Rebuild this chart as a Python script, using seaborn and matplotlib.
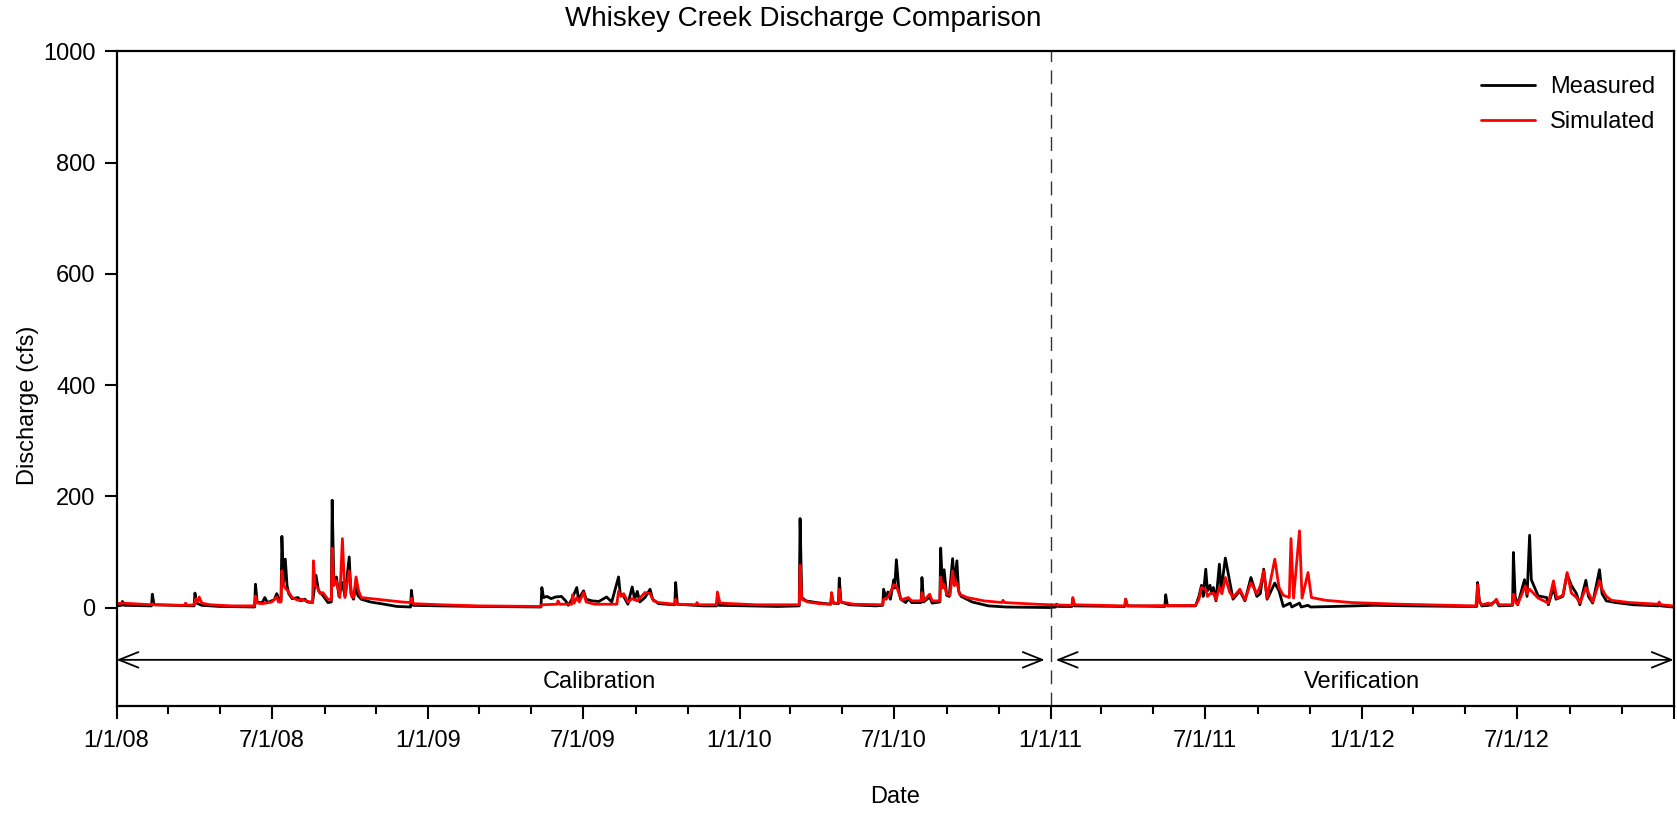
import pandas as pd
import seaborn as sns
import matplotlib
matplotlib.use("Agg")
import matplotlib.pyplot as plt
import matplotlib.dates as mdates
from matplotlib.ticker import FuncFormatter

# daily discharge (cfs), key points only
measured = [
    ("2008-01-01", 3), ("2008-01-07", 4), ("2008-01-08", 11), ("2008-01-10", 4),
    ("2008-02-11", 3), ("2008-02-12", 24), ("2008-02-14", 5),
    ("2008-04-01", 3), ("2008-04-02", 26), ("2008-04-04", 8), ("2008-04-10", 4),
    ("2008-05-01", 2), ("2008-06-11", 1), ("2008-06-12", 42), ("2008-06-14", 9),
    ("2008-06-20", 9), ("2008-06-23", 18), ("2008-06-26", 9), ("2008-07-04", 14),
    ("2008-07-07", 25), ("2008-07-10", 12), ("2008-07-12", 14), ("2008-07-13", 128),
    ("2008-07-15", 45), ("2008-07-17", 87), ("2008-07-19", 40), ("2008-07-21", 25),
    ("2008-07-25", 16), ("2008-08-01", 18), ("2008-08-04", 12), ("2008-08-09", 15),
    ("2008-08-12", 10), ("2008-08-18", 9), ("2008-08-22", 58), ("2008-08-25", 30),
    ("2008-08-30", 22), ("2008-09-05", 9), ("2008-09-09", 10), ("2008-09-10", 193),
    ("2008-09-12", 40), ("2008-09-15", 55), ("2008-09-18", 20), ("2008-09-22", 45),
    ("2008-09-25", 20), ("2008-09-30", 91), ("2008-10-02", 25), ("2008-10-05", 15),
    ("2008-10-08", 42), ("2008-10-10", 22), ("2008-10-14", 15), ("2008-10-25", 10),
    ("2008-11-10", 6), ("2008-11-25", 2), ("2008-12-11", 1), ("2008-12-12", 31),
    ("2008-12-14", 4), ("2009-01-15", 3), ("2009-03-01", 2), ("2009-05-13", 1),
    ("2009-05-14", 36), ("2009-05-16", 18), ("2009-05-20", 20), ("2009-05-25", 16),
    ("2009-05-30", 19), ("2009-06-06", 20), ("2009-06-11", 12), ("2009-06-14", 4),
    ("2009-06-18", 14), ("2009-06-24", 36), ("2009-06-26", 15), ("2009-07-02", 30),
    ("2009-07-05", 15), ("2009-07-12", 12), ("2009-07-20", 11), ("2009-07-29", 19),
    ("2009-08-04", 10), ("2009-08-12", 55), ("2009-08-14", 25), ("2009-08-18", 20),
    ("2009-08-23", 6), ("2009-08-28", 37), ("2009-08-31", 15), ("2009-09-03", 29),
    ("2009-09-06", 10), ("2009-09-12", 18), ("2009-09-18", 33), ("2009-09-21", 15),
    ("2009-09-28", 7), ("2009-10-17", 5), ("2009-10-18", 45), ("2009-10-20", 6),
    ("2009-11-20", 3), ("2009-12-05", 3), ("2009-12-06", 19), ("2009-12-08", 4),
    ("2010-01-15", 3), ("2010-02-15", 2), ("2010-03-12", 3), ("2010-03-13", 160),
    ("2010-03-15", 18), ("2010-03-20", 12), ("2010-04-01", 9), ("2010-04-18", 6),
    ("2010-04-19", 22), ("2010-04-21", 8), ("2010-04-27", 7), ("2010-04-28", 53),
    ("2010-04-30", 10), ("2010-05-10", 5), ("2010-06-10", 3), ("2010-06-18", 4),
    ("2010-06-19", 33), ("2010-06-22", 15), ("2010-06-24", 28), ("2010-06-27", 15),
    ("2010-07-01", 50), ("2010-07-02", 35), ("2010-07-04", 86), ("2010-07-07", 30),
    ("2010-07-09", 15), ("2010-07-15", 9), ("2010-07-18", 16), ("2010-07-22", 9),
    ("2010-08-02", 9), ("2010-08-03", 54), ("2010-08-05", 10), ("2010-08-12", 19),
    ("2010-08-15", 8), ("2010-08-24", 10), ("2010-08-25", 107), ("2010-08-27", 40),
    ("2010-08-29", 68), ("2010-09-01", 22), ("2010-09-04", 20), ("2010-09-08", 88),
    ("2010-09-10", 40), ("2010-09-13", 84), ("2010-09-15", 30), ("2010-09-18", 20),
    ("2010-10-01", 10), ("2010-10-20", 3), ("2010-11-10", 1), ("2010-12-31", 0),
    ("2011-01-07", 1), ("2011-01-08", 6), ("2011-01-10", 2), ("2011-01-26", 2),
    ("2011-01-27", 15), ("2011-01-29", 3), ("2011-03-29", 2), ("2011-03-30", 15),
    ("2011-04-01", 3), ("2011-05-15", 2), ("2011-05-16", 23), ("2011-05-18", 3),
    ("2011-06-20", 3), ("2011-06-24", 20), ("2011-06-27", 40), ("2011-06-29", 20),
    ("2011-07-02", 69), ("2011-07-04", 30), ("2011-07-07", 40), ("2011-07-09", 25),
    ("2011-07-11", 36), ("2011-07-14", 12), ("2011-07-18", 78), ("2011-07-20", 30),
    ("2011-07-25", 89), ("2011-07-30", 48), ("2011-08-03", 15), ("2011-08-11", 30),
    ("2011-08-17", 12), ("2011-08-24", 54), ("2011-08-31", 20), ("2011-09-04", 25),
    ("2011-09-08", 69), ("2011-09-12", 15), ("2011-09-21", 44), ("2011-09-26", 30),
    ("2011-10-01", 2), ("2011-10-09", 8), ("2011-10-11", 1), ("2011-10-20", 8),
    ("2011-10-22", 1), ("2011-10-30", 4), ("2011-11-02", 1), ("2011-12-01", 2),
    ("2012-01-15", 4), ("2012-03-01", 3), ("2012-05-01", 2), ("2012-05-15", 2),
    ("2012-05-16", 45), ("2012-05-18", 12), ("2012-05-21", 3), ("2012-05-29", 4),
    ("2012-06-07", 12), ("2012-06-10", 3), ("2012-06-26", 4), ("2012-06-27", 99),
    ("2012-06-29", 20), ("2012-07-02", 5), ("2012-07-10", 50), ("2012-07-12", 30),
    ("2012-07-13", 20), ("2012-07-16", 130), ("2012-07-18", 50), ("2012-07-26", 21),
    ("2012-08-05", 18), ("2012-08-07", 5), ("2012-08-13", 36), ("2012-08-16", 15),
    ("2012-08-24", 20), ("2012-08-29", 60), ("2012-09-03", 40), ("2012-09-09", 25),
    ("2012-09-13", 5), ("2012-09-20", 49), ("2012-09-23", 20), ("2012-09-28", 8),
    ("2012-10-06", 68), ("2012-10-09", 25), ("2012-10-14", 12), ("2012-10-25", 9),
    ("2012-11-15", 5), ("2012-12-14", 3), ("2012-12-15", 8), ("2012-12-17", 3),
    ("2012-12-31", 1),
]

simulated = [
    ("2008-01-01", 7), ("2008-01-08", 8), ("2008-02-11", 5), ("2008-02-12", 7),
    ("2008-02-14", 5), ("2008-03-21", 4), ("2008-03-22", 8), ("2008-03-24", 4),
    ("2008-04-01", 5), ("2008-04-03", 16), ("2008-04-05", 10), ("2008-04-07", 19),
    ("2008-04-10", 8), ("2008-04-20", 5), ("2008-05-15", 3), ("2008-06-11", 3),
    ("2008-06-12", 21), ("2008-06-14", 8), ("2008-06-20", 7), ("2008-07-01", 10),
    ("2008-07-07", 19), ("2008-07-09", 10), ("2008-07-12", 10), ("2008-07-13", 66),
    ("2008-07-15", 40), ("2008-07-17", 35), ("2008-07-20", 30), ("2008-07-25", 18),
    ("2008-08-01", 13), ("2008-08-05", 15), ("2008-08-10", 12), ("2008-08-18", 9),
    ("2008-08-19", 84), ("2008-08-21", 40), ("2008-08-24", 35), ("2008-08-27", 25),
    ("2008-08-30", 27), ("2008-09-05", 15), ("2008-09-09", 14), ("2008-09-10", 107),
    ("2008-09-12", 40), ("2008-09-15", 48), ("2008-09-19", 18), ("2008-09-22", 124),
    ("2008-09-25", 18), ("2008-09-30", 66), ("2008-10-03", 20), ("2008-10-05", 18),
    ("2008-10-08", 55), ("2008-10-11", 30), ("2008-10-14", 18), ("2008-11-01", 15),
    ("2008-12-01", 10), ("2008-12-11", 9), ("2008-12-12", 17), ("2008-12-14", 7),
    ("2009-01-15", 5), ("2009-03-01", 3), ("2009-05-13", 2), ("2009-05-14", 5),
    ("2009-06-01", 6), ("2009-06-02", 12), ("2009-06-04", 6), ("2009-06-18", 6),
    ("2009-06-19", 23), ("2009-06-21", 8), ("2009-06-24", 18), ("2009-06-27", 10),
    ("2009-07-02", 27), ("2009-07-05", 10), ("2009-07-15", 6), ("2009-08-10", 6),
    ("2009-08-12", 29), ("2009-08-15", 20), ("2009-08-18", 25), ("2009-08-23", 10),
    ("2009-08-28", 16), ("2009-09-03", 12), ("2009-09-12", 27), ("2009-09-18", 25),
    ("2009-09-22", 12), ("2009-09-28", 9), ("2009-10-17", 6), ("2009-10-18", 15),
    ("2009-10-20", 6), ("2009-11-11", 5), ("2009-11-12", 9), ("2009-11-14", 5),
    ("2009-12-05", 5), ("2009-12-06", 28), ("2009-12-09", 8), ("2010-01-20", 5),
    ("2010-03-12", 5), ("2010-03-13", 76), ("2010-03-15", 15), ("2010-03-22", 10),
    ("2010-04-05", 7), ("2010-04-18", 6), ("2010-04-19", 27), ("2010-04-21", 8),
    ("2010-04-27", 8), ("2010-04-28", 33), ("2010-04-30", 10), ("2010-05-15", 6),
    ("2010-06-18", 5), ("2010-06-19", 15), ("2010-06-24", 18), ("2010-07-01", 41),
    ("2010-07-04", 39), ("2010-07-07", 25), ("2010-07-10", 14), ("2010-07-18", 18),
    ("2010-07-22", 12), ("2010-08-02", 12), ("2010-08-03", 27), ("2010-08-05", 12),
    ("2010-08-12", 24), ("2010-08-15", 12), ("2010-08-24", 12), ("2010-08-25", 55),
    ("2010-08-27", 35), ("2010-08-29", 42), ("2010-09-01", 24), ("2010-09-05", 22),
    ("2010-09-08", 66), ("2010-09-10", 40), ("2010-09-13", 45), ("2010-09-16", 24),
    ("2010-09-25", 18), ("2010-10-15", 12), ("2010-11-05", 9), ("2010-11-06", 13),
    ("2010-11-08", 9), ("2010-12-15", 6), ("2011-01-01", 5),
    ("2011-01-26", 4), ("2011-01-27", 18), ("2011-01-29", 5), ("2011-03-29", 3),
    ("2011-03-30", 15), ("2011-04-01", 3), ("2011-06-20", 4), ("2011-06-24", 15),
    ("2011-06-27", 36), ("2011-07-02", 32), ("2011-07-04", 20), ("2011-07-07", 25),
    ("2011-07-11", 26), ("2011-07-14", 14), ("2011-07-18", 36), ("2011-07-21", 25),
    ("2011-07-25", 54), ("2011-07-30", 28), ("2011-08-03", 18), ("2011-08-11", 33),
    ("2011-08-17", 14), ("2011-08-24", 45), ("2011-08-31", 25), ("2011-09-04", 39),
    ("2011-09-08", 66), ("2011-09-12", 17), ("2011-09-21", 87), ("2011-09-26", 36),
    ("2011-10-01", 22), ("2011-10-08", 18), ("2011-10-10", 124), ("2011-10-13", 17),
    ("2011-10-20", 138), ("2011-10-23", 17), ("2011-10-30", 63), ("2011-11-03", 18),
    ("2011-11-20", 13), ("2011-12-20", 9), ("2012-02-15", 6), ("2012-04-15", 4),
    ("2012-05-14", 3), ("2012-05-16", 41), ("2012-05-18", 10), ("2012-05-21", 5),
    ("2012-05-29", 8), ("2012-06-01", 4), ("2012-06-07", 15), ("2012-06-10", 5),
    ("2012-06-26", 5), ("2012-06-27", 24), ("2012-06-30", 8), ("2012-07-02", 6),
    ("2012-07-11", 39), ("2012-07-13", 25), ("2012-07-16", 33), ("2012-07-19", 28),
    ("2012-07-26", 17), ("2012-08-07", 8), ("2012-08-13", 48), ("2012-08-17", 17),
    ("2012-08-24", 22), ("2012-08-29", 63), ("2012-09-03", 26), ("2012-09-09", 18),
    ("2012-09-13", 8), ("2012-09-20", 36), ("2012-09-22", 30), ("2012-09-28", 10),
    ("2012-10-06", 48), ("2012-10-09", 33), ("2012-10-14", 20), ("2012-10-20", 13),
    ("2012-11-10", 9), ("2012-12-14", 6), ("2012-12-15", 10), ("2012-12-17", 5),
    ("2012-12-31", 3),
]

periods = ["Calibration", "Verification"]
period_starts = ["2008-01-01", "2011-01-07"]
period_ends = ["2010-12-25", "2013-01-01"]
period_label_at = ["2009-07-20", "2012-01-01"]
split_date = "2011-01-01"

# %%
df = pd.concat(
    [
        pd.DataFrame(measured, columns=["date", "cfs"]).assign(series="Measured"),
        pd.DataFrame(simulated, columns=["date", "cfs"]).assign(series="Simulated"),
    ],
    ignore_index=True,
)
df["date"] = pd.to_datetime(df["date"])

sns.set_style("ticks")
plt.rcParams["font.family"] = ["Liberation Sans", "DejaVu Sans"]
plt.rcParams["text.color"] = "black"
plt.rcParams["axes.labelcolor"] = "black"
plt.rcParams["xtick.color"] = "black"
plt.rcParams["ytick.color"] = "black"

fig = plt.figure(figsize=(16.77, 8.13), dpi=100)
ax = fig.add_axes([0.0695, 0.1316, 0.9285, 0.8053])

sns.lineplot(
    data=df, x="date", y="cfs", hue="series",
    palette={"Measured": "black", "Simulated": "#ff0000"},
    estimator=None, linewidth=2.0, ax=ax,
)

ax.set_xlim(pd.Timestamp("2008-01-01"), pd.Timestamp("2013-01-01"))
ax.set_ylim(-177, 1000)
ax.set_yticks(range(0, 1001, 200))

ax.xaxis.set_major_locator(mdates.MonthLocator(bymonth=[1, 7]))
ax.xaxis.set_minor_locator(mdates.MonthLocator(bymonth=[3, 5, 9, 11]))


def fmt_date(x, pos):
    d = mdates.num2date(x)
    if d.year >= 2013:
        return ""
    return f"{d.month}/{d.day}/{d:%y}"


ax.xaxis.set_major_formatter(FuncFormatter(fmt_date))

for s in ax.spines.values():
    s.set_linewidth(1.6)
    s.set_color("black")
ax.tick_params(axis="both", which="major", length=9, width=1.5,
               direction="out", labelsize=17, color="black")
ax.tick_params(axis="x", which="major", pad=8)
ax.tick_params(axis="y", which="major", pad=6)
ax.tick_params(axis="x", which="minor", length=6, width=1.5, color="black")

# split between calibration and verification
ax.axvline(pd.Timestamp(split_date), color="#333333", lw=1.0, dashes=(10, 6))

for name, a, b, c in zip(periods, period_starts, period_ends, period_label_at):
    ax.annotate(
        "", xy=(mdates.date2num(pd.Timestamp(a)), -94),
        xytext=(mdates.date2num(pd.Timestamp(b)), -94),
        arrowprops=dict(arrowstyle="<->,head_length=0.7,head_width=0.28",
                        lw=1.3, color="black", shrinkA=0, shrinkB=0,
                        mutation_scale=20),
    )
    ax.text(mdates.date2num(pd.Timestamp(c)), -134, name,
            ha="center", va="center", fontsize=17)

ax.set_ylabel("Discharge (cfs)", fontsize=17)
ax.yaxis.set_label_coords(-0.057, 0.46)
ax.yaxis.label.set_va("center")
ax.set_xlabel("Date", fontsize=17)
ax.xaxis.set_label_coords(0.5, -0.139)
ax.xaxis.label.set_va("center")

fig.text(0.479, 0.977, "Whiskey Creek Discharge Comparison",
         ha="center", va="center", fontsize=20)

leg = ax.legend(title=None, frameon=False, loc="upper right",
                bbox_to_anchor=(1655 / 1677, 1 - 76 / 813),
                bbox_transform=fig.transFigure, borderaxespad=0, borderpad=0,
                fontsize=17, handlelength=2.3, handletextpad=0.6,
                labelspacing=0.55)

fig.savefig("out.png", dpi=100)
